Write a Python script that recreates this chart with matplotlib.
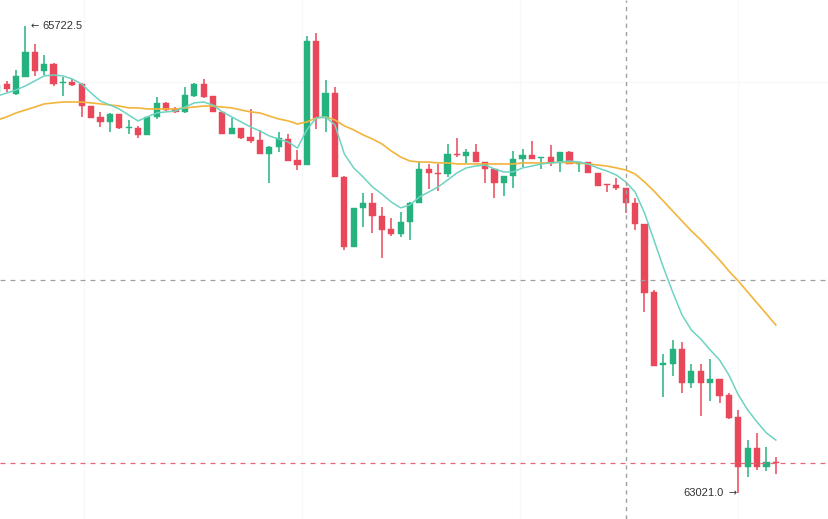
import matplotlib.pyplot as plt
import numpy as np

# -----------------------------
# Data
# -----------------------------
opens = [65341, 65387, 65330, 65428, 65572, 65462, 65503, 65393, 65399, 65387,
         65260, 65197, 65168, 65214, 65133, 65133, 65093, 65197, 65278, 65243,
         65226, 65318, 65387, 65318, 65226, 65098, 65133, 65081, 65064, 64983,
         65023, 65069, 64948, 64919, 65636, 65191, 65335, 64850, 64445, 64671,
         64699, 64624, 64549, 64520, 64590, 64699, 64896, 64873, 64867, 64983,
         64971, 64994, 64936, 64896, 64815, 64856, 64954, 64977, 64960, 64965,
         64931, 64994, 64925, 64936, 64873, 64809, 64803, 64786, 64699, 64578,
         64185, 63763, 63769, 63855, 63659, 63728, 63659, 63682, 63590, 63462,
         63173, 63283, 63173, 63202]
highs = [65387, 65405, 65468, 65722.5, 65619, 65555, 65509, 65428, 65416, 65393,
         65262, 65226, 65220, 65216, 65179, 65145, 65199, 65312, 65283, 65254,
         65370, 65393, 65416, 65320, 65228, 65191, 65135, 65243, 65122, 65029,
         65110, 65098, 65006, 65665, 65682, 65410, 65370, 64856, 64673, 64757,
         64757, 64676, 64613, 64647, 64705, 64942, 64925, 64925, 65041, 65075,
         65012, 65041, 64938, 64902, 64858, 65000, 65012, 65058, 64967, 65035,
         64996, 65000, 64938, 64938, 64875, 64811, 64844, 64788, 64728, 64580,
         64196, 63826, 63907, 63896, 63769, 63769, 63798, 63684, 63601, 63503,
         63329, 63370, 63289, 63231]
lows = [65335, 65341, 65324, 65426, 65434, 65439, 65376, 65318, 65376, 65197,
        65189, 65139, 65110, 65127, 65098, 65075, 65091, 65185, 65231, 65220,
        65220, 65312, 65306, 65224, 65096, 65096, 65069, 65046, 64981, 64815,
        64994, 64940, 64890, 64917, 65127, 65110, 64848, 64428, 64443, 64561,
        64526, 64382, 64509, 64503, 64486, 64697, 64780, 64769, 64850, 64965,
        64931, 64934, 64815, 64728, 64740, 64786, 64908, 64952, 64896, 64913,
        64879, 64923, 64879, 64871, 64796, 64763, 64775, 64642, 64543, 64069,
        63755, 63578, 63699, 63601, 63630, 63468, 63555, 63543, 63451, 63021.0,
        63115, 63156, 63150, 63133]
closes = [65382, 65358, 65434, 65572, 65462, 65503, 65387, 65399, 65382, 65260,
          65191, 65168, 65214, 65133, 65139, 65093, 65197, 65278, 65237, 65226,
          65324, 65387, 65312, 65226, 65098, 65133, 65075, 65058, 64983, 65023,
          65075, 64942, 64919, 65636, 65191, 65335, 64850, 64445, 64671, 64699,
          64624, 64543, 64520, 64590, 64699, 64896, 64873, 64867, 64983, 64977,
          64994, 64936, 64896, 64815, 64856, 64954, 64977, 64954, 64965, 64931,
          64994, 64925, 64936, 64873, 64798, 64803, 64786, 64699, 64578, 64179,
          63757, 63774, 63855, 63659, 63728, 63659, 63682, 63584, 63457, 63173,
          63283, 63173, 63202, 63196]

ma_fast = [65318, 65335, 65353, 65376, 65405, 65434, 65439, 65434, 65416, 65387,
           65335, 65289, 65266, 65243, 65208, 65174, 65197, 65220, 65226, 65231,
           65254, 65278, 65283, 65266, 65226, 65197, 65168, 65139, 65116, 65087,
           65069, 65052, 65017, 65122, 65191, 65197, 65150, 64983, 64902, 64850,
           64792, 64751, 64705, 64671, 64688, 64734, 64763, 64792, 64832, 64873,
           64902, 64913, 64919, 64896, 64879, 64879, 64902, 64913, 64925, 64931,
           64936, 64942, 64936, 64925, 64902, 64884, 64861, 64821, 64763, 64642,
           64486, 64329, 64185, 64052, 63965, 63913, 63850, 63792, 63705, 63590,
           63503, 63433, 63370, 63329]
ma_slow = [65179, 65197, 65220, 65237, 65254, 65272, 65278, 65283, 65283, 65283,
           65278, 65272, 65266, 65260, 65249, 65249, 65243, 65243, 65243, 65243,
           65249, 65254, 65260, 65260, 65254, 65249, 65237, 65226, 65220, 65202,
           65185, 65174, 65156, 65168, 65191, 65197, 65179, 65145, 65122, 65093,
           65069, 65041, 65000, 64965, 64942, 64936, 64936, 64931, 64931, 64925,
           64925, 64925, 64925, 64925, 64925, 64925, 64931, 64931, 64931, 64931,
           64936, 64931, 64931, 64925, 64919, 64913, 64902, 64890, 64867, 64821,
           64769, 64711, 64653, 64595, 64538, 64486, 64428, 64370, 64306, 64248,
           64185, 64121, 64058, 63994]

max_label = "65722.5"
min_label = "63021.0"
crosshair_index = 67
crosshair_price = 64254
last_price = closes[-1]
grid_x = [9.2, 32.5, 55.7, 79.0]
grid_y = [65399]

UP = "#26b27f"
DOWN = "#e9485a"
FAST = "#6dd3c2"
SLOW = "#f2b43a"
TEXT = "#333333"


def main():
    fig = plt.figure(figsize=(8.29, 5.19), dpi=100)
    ax = fig.add_axes([0, 0, 1, 1])
    ax.set_facecolor("white")

    # very faint background grid
    for gx in grid_x:
        ax.axvline(gx, color="#f8f8f8", lw=1, zorder=0)
    for gy in grid_y:
        ax.axhline(gy, color="#f8f8f8", lw=1, zorder=0)

    o = np.array(opens, dtype=float)
    h = np.array(highs, dtype=float)
    l = np.array(lows, dtype=float)
    c = np.array(closes, dtype=float)
    idx = np.arange(len(o))
    up = c >= o
    colors = np.where(up, UP, DOWN)

    # wicks
    ax.vlines(idx, l, h, colors=colors, lw=1.1, zorder=2)
    # bodies
    bottoms = np.minimum(o, c)
    heights = np.maximum(np.abs(c - o), 8)
    ax.bar(idx, heights, bottom=bottoms, width=0.66, color=colors,
           edgecolor=colors, lw=0.3, zorder=3)

    ax.plot(idx, ma_slow, color=SLOW, lw=1.2, zorder=4)
    ax.plot(idx, ma_fast, color=FAST, lw=1.1, zorder=4)

    # crosshair + last price
    ax.axvline(crosshair_index, color="#a0a0a0", lw=1, ls=(0, (3, 3)), zorder=5)
    ax.axhline(crosshair_price, color="#a0a0a0", lw=0.9, ls=(0, (4, 4)), zorder=5)
    ax.axhline(last_price, color="#e8687a", lw=0.9, ls=(0, (4, 4)), zorder=5)

    # max / min markers: arrow glyph + price label
    i_max = int(np.argmax(h))
    i_min = int(np.argmin(l))
    num_font = ["Liberation Sans", "DejaVu Sans"]
    ax.annotate("\u2190", xy=(i_max, h[i_max]), xytext=(3.4, 0),
                textcoords="offset points", ha="left", va="center",
                fontsize=7, color=TEXT)
    ax.annotate(max_label, xy=(i_max, h[i_max]), xytext=(12, 0),
                textcoords="offset points", ha="left", va="center",
                fontsize=8, color=TEXT, family=num_font)
    ax.annotate("\u2192", xy=(i_min, l[i_min]), xytext=(-1.5, 0),
                textcoords="offset points", ha="right", va="center",
                fontsize=7, color=TEXT)
    ax.annotate(min_label, xy=(i_min, l[i_min]), xytext=(-10.5, 0),
                textcoords="offset points", ha="right", va="center",
                fontsize=8, color=TEXT, family=num_font)

    ax.set_xlim(0.29, 88.67)
    ax.set_ylim(62872.5, 65872.8)
    ax.set_xticks([])
    ax.set_yticks([])
    for s in ax.spines.values():
        s.set_visible(False)

    fig.savefig("out.png", dpi=100)
    plt.close(fig)


if __name__ == "__main__":
    main()
